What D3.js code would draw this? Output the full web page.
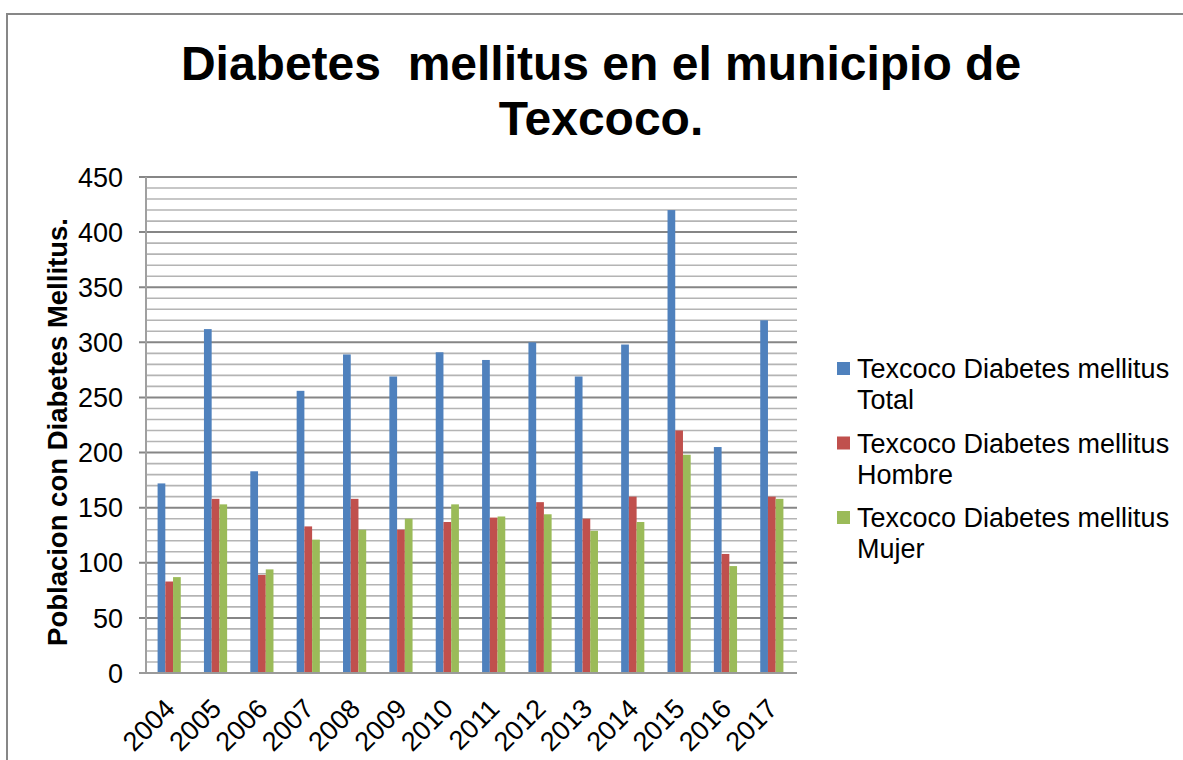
<!DOCTYPE html>
<html>
<head>
<meta charset="utf-8">
<script src="https://cdn.jsdelivr.net/npm/d3@7"></script>
<style>
    body { margin: 0; background: #ffffff; }
    svg { display: block; }
</style>
</head>
<body>
<div id="chart"></div>
<script>
const years = ['2004', '2005', '2006', '2007', '2008', '2009', '2010', '2011', '2012', '2013', '2014', '2015', '2016', '2017'];
const totalValues = [172, 312, 183, 256, 289, 269, 291, 284, 300, 269, 298, 420, 205, 320];
const hombreValues = [83, 158, 89, 133, 158, 130, 137, 141, 155, 140, 160, 220, 108, 160];
const mujerValues = [87, 153, 94, 121, 130, 140, 153, 142, 144, 129, 137, 198, 97, 158];
const seriesNames = ['Texcoco Diabetes mellitus Total', 'Texcoco Diabetes mellitus Hombre', 'Texcoco Diabetes mellitus Mujer'];
const seriesColors = ['#4f81bd', '#c0504d', '#9bbb59'];
const yTicks = [0, 50, 100, 150, 200, 250, 300, 350, 400, 450];

function drawChart() {
    const fontFamily = "'Liberation Sans', Arial, sans-serif";
    const width = 1183,
        height = 760;
    const plot = {left: 146, right: 795, top: 177, bottom: 673};

    const svg = d3.select("#chart")
        .append("svg")
            .attr("width", width)
            .attr("height", height);

    svg.append("rect")
        .attr("x", 0).attr("y", 0)
        .attr("width", width).attr("height", height)
        .attr("fill", "#ffffff");

    // outer frame (right and bottom edges fall outside the picture)
    svg.append("rect")
        .attr("x", 7).attr("y", 14)
        .attr("width", width + 20).attr("height", height + 20)
        .attr("fill", "none")
        .attr("stroke", "#878787")
        .attr("stroke-width", 2);

    const title = svg.append("text")
        .attr("text-anchor", "middle")
        .style("font-family", fontFamily)
        .style("font-weight", "bold")
        .style("font-size", "48px")
        .style("white-space", "pre")
        .attr("fill", "#000000");
    title.append("tspan").attr("x", 601).attr("y", 80).text("Diabetes  mellitus en el municipio de");
    title.append("tspan").attr("x", 601).attr("y", 135).text("Texcoco.");

    const y = d3.scaleLinear()
        .domain([0, 450])
        .range([plot.bottom, plot.top]);

    const x = d3.scaleBand()
        .domain(years)
        .range([plot.left, plot.right])
        .paddingInner(0)
        .paddingOuter(0);

    const barWidth = x.bandwidth() / 6;

    // gridlines: minor every 10, major every 50
    const minor = d3.range(10, 451, 10).filter(v => v % 50 !== 0);
    svg.append("g")
        .selectAll("line")
        .data(minor)
        .join("line")
            .attr("x1", plot.left)
            .attr("x2", plot.right + 2)
            .attr("y1", d => y(d))
            .attr("y2", d => y(d))
            .attr("stroke", "#b4b4b4")
            .attr("stroke-width", 1.6);

    svg.append("g")
        .selectAll("line")
        .data(yTicks.filter(v => v > 0))
        .join("line")
            .attr("x1", plot.left - 7)
            .attr("x2", plot.right + 2)
            .attr("y1", d => y(d))
            .attr("y2", d => y(d))
            .attr("stroke", "#868686")
            .attr("stroke-width", 2);

    // y axis line
    svg.append("line")
        .attr("x1", plot.left).attr("x2", plot.left)
        .attr("y1", plot.top).attr("y2", plot.bottom)
        .attr("stroke", "#a0a0a0")
        .attr("stroke-width", 2);

    svg.append("g")
        .selectAll("text")
        .data(yTicks)
        .join("text")
            .attr("x", 123)
            .attr("y", d => y(d))
            .attr("dy", "0.36em")
            .attr("text-anchor", "end")
            .style("font-family", fontFamily)
            .style("font-size", "27px")
            .attr("fill", "#000000")
            .text(d => d);

    // bars
    const seriesValues = [totalValues, hombreValues, mujerValues];
    const groups = svg.append("g")
        .selectAll("g")
        .data(years)
        .join("g")
            .attr("transform", d => "translate(" + (x(d) + x.bandwidth() / 2 - 1.5 * barWidth) + ",0)");

    groups.selectAll("rect")
        .data((d, i) => seriesValues.map((vals, s) => ({s: s, v: vals[i]})))
        .join("rect")
            .attr("x", d => d.s * barWidth)
            .attr("y", d => y(d.v))
            .attr("width", barWidth)
            .attr("height", d => y(0) - y(d.v))
            .attr("fill", d => seriesColors[d.s]);

    // x axis line
    svg.append("line")
        .attr("x1", plot.left - 7).attr("x2", plot.right + 2)
        .attr("y1", plot.bottom).attr("y2", plot.bottom)
        .attr("stroke", "#9a9a9a")
        .attr("stroke-width", 2);

    svg.append("g")
        .selectAll("text")
        .data(years)
        .join("text")
            .attr("transform", d => "translate(" + (x(d) + x.bandwidth() / 2 - 6) + "," + (plot.bottom + 24) + ") rotate(-45)")
            .attr("text-anchor", "end")
            .attr("dy", "0.7em")
            .style("font-family", fontFamily)
            .style("font-size", "27px")
            .attr("fill", "#000000")
            .text(d => d);

    // y axis title
    svg.append("text")
        .attr("transform", "translate(67," + ((plot.top + plot.bottom) / 2 + 7) + ") rotate(-90)")
        .attr("text-anchor", "middle")
        .style("font-family", fontFamily)
        .style("font-weight", "bold")
        .style("font-size", "27.5px")
        .attr("fill", "#000000")
        .text("Poblacion con Diabetes Mellitus.");

    // legend
    const legend = svg.append("g")
        .selectAll("g")
        .data(seriesNames)
        .join("g")
            .attr("transform", (d, i) => "translate(837," + (362 + i * 74.5) + ")");

    legend.append("rect")
        .attr("width", 13)
        .attr("height", 13)
        .attr("fill", (d, i) => seriesColors[i]);

    const legendText = legend.append("text")
        .style("font-family", fontFamily)
        .style("font-size", "27px")
        .attr("fill", "#000000");
    legendText.append("tspan")
        .attr("x", 20).attr("y", 16)
        .text("Texcoco Diabetes mellitus");
    legendText.append("tspan")
        .attr("x", 20).attr("y", 47)
        .text(d => d.replace("Texcoco Diabetes mellitus ", ""));
}

drawChart();
</script>
</body>
</html>
